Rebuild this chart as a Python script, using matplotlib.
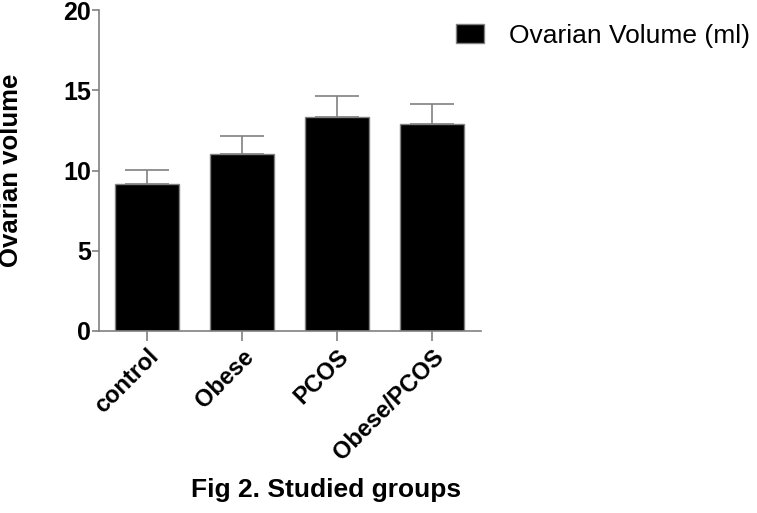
import matplotlib
matplotlib.use("Agg")
import matplotlib.pyplot as plt
from matplotlib.patches import Patch

groups = ["control", "Obese", "PCOS", "Obese/PCOS"]
means = [9.14, 11.03, 13.31, 12.92]
errors = [0.89, 1.10, 1.33, 1.20]
yticks = [0, 5, 10, 15, 20]
series_label = "Ovarian Volume (ml)"
ylabel = "Ovarian volume"
xlabel = "Fig 2. Studied groups"

plt.rcParams['font.family'] = ['Liberation Sans', 'DejaVu Sans']

fig = plt.figure(figsize=(7.57, 5.13), dpi=100)
ax = fig.add_axes([99/757, 1-331/513, (481-99)/757, (331-10)/513])

gray = "#808080"
x = list(range(len(groups)))
ax.bar(x, means, width=0.67, color="black", edgecolor=gray, linewidth=1, zorder=2)
ax.errorbar(x, means, yerr=[[0]*len(errors), errors], fmt="none", ecolor=gray,
            elinewidth=1.2, capsize=16, capthick=1.2, zorder=1)

ax.set_xlim(-0.505, 3.516)
ax.set_ylim(0, 20)
ax.set_yticks(yticks)
ax.set_xticks(x)
ax.set_xticklabels(groups, rotation=45, ha="right", rotation_mode="anchor",
                   fontsize=17, fontweight="bold")
for lab in ax.get_yticklabels():
    lab.set_fontsize(18)
    lab.set_fontweight("bold")

for s in ["top", "right"]:
    ax.spines[s].set_visible(False)
for s in ["left", "bottom"]:
    ax.spines[s].set_color(gray)
    ax.spines[s].set_linewidth(1.2)
ax.tick_params(axis="both", colors=gray, labelcolor="black", width=1.2)
ax.tick_params(axis="y", length=5, pad=0.5)
ax.tick_params(axis="x", length=7, pad=3)

ax.set_ylabel(ylabel, fontsize=18.5, fontweight="bold")
ax.yaxis.set_label_coords(23/757, 1-170/513, transform=fig.transFigure)
fig.text(326/757, 1-490/513, xlabel, fontsize=19, fontweight="bold",
         ha="center", va="center")

handle = Patch(facecolor="black", edgecolor=gray, linewidth=1)
fig.legend([handle], [series_label], loc="upper left",
           bbox_to_anchor=(456/757, 1-24/513), frameon=False, fontsize=19,
           handlelength=1.05, handleheight=0.72, handletextpad=0.95,
           borderpad=0, borderaxespad=0)

fig.savefig("out.png", dpi=100)
